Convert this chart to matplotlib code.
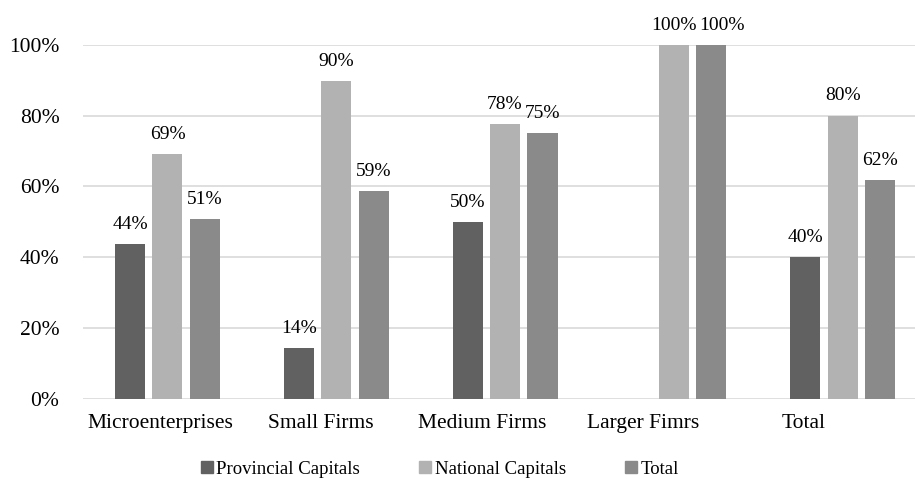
import numpy as np
import matplotlib
matplotlib.use("Agg")
import matplotlib.pyplot as plt
from matplotlib.lines import Line2D

plt.rcParams['font.family'] = ['Liberation Serif', 'DejaVu Serif']

categories = ['Microenterprises', 'Small Firms', 'Medium Firms', 'Larger Fimrs', 'Total']
series = ['Provincial Capitals', 'National Capitals', 'Total']
provincial = [43.8, 14.3, 50.0, np.nan, 40.0]
national = [69.2, 89.8, 77.6, 100.0, 80.0]
total = [50.9, 58.6, 75.0, 100.0, 61.7]
colors = ['#616161', '#b2b2b2', '#8a8a8a']

fig = plt.figure(figsize=(9.15, 4.8), dpi=100)
ax = fig.add_axes([0.0908, 0.1688, 0.9223, 0.738])

x = np.arange(len(categories))
width = 0.178
step = 0.222

for i, (vals, col) in enumerate(zip([provincial, national, total], colors)):
    pos = x + (i - 1) * step
    ax.bar(pos, vals, width=width, color=col, zorder=3)
    for j, (p, v) in enumerate(zip(pos, vals)):
        if np.isnan(v):
            continue
        # the two 100% labels sit side by side, push the second one right a bit
        dx = 8 if (i == 2 and v == 100) else 0
        ax.annotate(f"{v:.0f}%", (p, v), xytext=(dx, 8), textcoords='offset points',
                    ha='center', va='bottom', fontsize=14, annotation_clip=False)

ax.set_xlim(-0.5, 4.5)
ax.set_ylim(0, 100)
ax.set_yticks(np.arange(0, 101, 20))
ax.set_yticklabels([f"{t}%" for t in range(0, 101, 20)], fontsize=15.5)
ax.yaxis.grid(True, color='#d9d9d9', linewidth=1.2, zorder=0)
ax.set_xticks(np.arange(5) * 0.954 - 0.044)
ax.set_xticklabels(categories, fontsize=15.5)
ax.tick_params(length=0)
ax.tick_params(axis='x', pad=11)
ax.tick_params(axis='y', pad=17)
for s in ax.spines.values():
    s.set_visible(False)

handles = [Line2D([], [], marker='s', linestyle='none', color=c, markersize=9) for c in colors]
fig.legend(handles, series, loc='center', bbox_to_anchor=(0.481, 0.022), ncol=3,
           frameon=False, fontsize=13.5, handlelength=0.6, handletextpad=0.2,
           columnspacing=3.2, borderpad=0)

fig.savefig('out.png', dpi=100)
